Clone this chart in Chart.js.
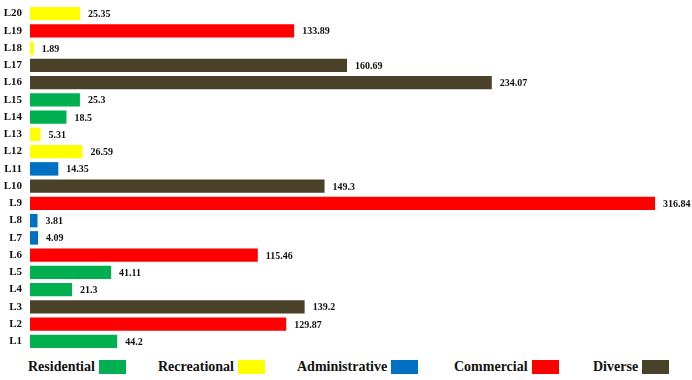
<!DOCTYPE html>
<html>
<head>
<meta charset="utf-8">
<script src="https://cdn.jsdelivr.net/npm/chart.js@4"></script>
<style>
  html, body { margin: 0; padding: 0; background: #fff; }
  #wrap { position: relative; width: 692px; height: 380px; overflow: hidden; }
  #chart { position: absolute; left: 0; top: 0; }
  #legend { position: absolute; left: 0; top: 357px; width: 692px; height: 20px;
    font-family: "Liberation Serif", serif; font-weight: bold; font-size: 14px; color: #111; }
  .item { position: absolute; top: 0; display: flex; align-items: center; height: 20px; }
  .box { display: inline-block; width: 27px; height: 14px; margin-left: 4px; }
</style>
</head>
<body>
<div id="wrap">
  <canvas id="chart" width="692" height="352"></canvas>
  <div id="legend"></div>
</div>
<script>
const labels = ['L1','L2','L3','L4','L5','L6','L7','L8','L9','L10','L11','L12','L13','L14','L15','L16','L17','L18','L19','L20']
const values = [44.2, 129.87, 139.2, 21.3, 41.11, 115.46, 4.09, 3.81, 316.84, 149.3, 14.35, 26.59, 5.31, 18.5, 25.3, 234.07, 160.69, 1.89, 133.89, 25.35]
const landUse = ['Residential','Commercial','Diverse','Residential','Residential','Commercial','Administrative','Administrative','Commercial','Diverse',
  'Administrative','Recreational','Recreational','Residential','Residential','Diverse','Diverse','Recreational','Commercial','Recreational']
const categories = ['Residential','Recreational','Administrative','Commercial','Diverse']
const categoryColors = ['#00b050','#ffff00','#0070c0','#ff0000','#4a4228']
const legendLeft = [28, 158, 297, 454, 593]

const colorOf = name => categoryColors[categories.indexOf(name)]
const serif = '"Liberation Serif", serif'

const valueLabels = {
  id: 'valueLabels',
  afterDatasetsDraw(chart) {
    const ctx = chart.ctx
    const meta = chart.getDatasetMeta(0)
    ctx.save()
    ctx.font = 'bold 10px ' + serif
    ctx.fillStyle = '#111'
    ctx.textBaseline = 'middle'
    meta.data.forEach((bar, i) => {
      ctx.fillText(String(values[i]), bar.x + 8, bar.y + 1)
    })
    ctx.restore()
  }
}

new Chart(document.getElementById('chart'), {
  type: 'bar',
  data: {
    labels: labels,
    datasets: [{
      data: values,
      backgroundColor: landUse.map(colorOf),
      borderWidth: 0,
      barPercentage: 0.78,
      categoryPercentage: 1
    }]
  },
  options: {
    indexAxis: 'y',
    responsive: false,
    animation: false,
    layout: { padding: { left: 0, right: 7, top: 5, bottom: 2 } },
    plugins: { legend: { display: false }, tooltip: { enabled: false } },
    scales: {
      x: { display: false, min: 0, max: 332 },
      y: {
        reverse: true,
        grid: { display: false, drawTicks: false },
        border: { display: false },
        ticks: { autoSkip: false, color: '#111', padding: 8, font: { family: serif, weight: 'bold', size: 11 } },
        afterFit(scale) {
          scale.width = 30
          scale.paddingTop = 0
          scale.paddingBottom = 0
        }
      }
    }
  },
  plugins: [valueLabels]
})

const legend = document.getElementById('legend')
categories.forEach((name, i) => {
  const item = document.createElement('div')
  item.className = 'item'
  item.style.left = legendLeft[i] + 'px'
  item.innerHTML = '<span>' + name + '</span><span class="box" style="background:' + categoryColors[i] + '"></span>'
  legend.appendChild(item)
})
</script>
</body>
</html>
